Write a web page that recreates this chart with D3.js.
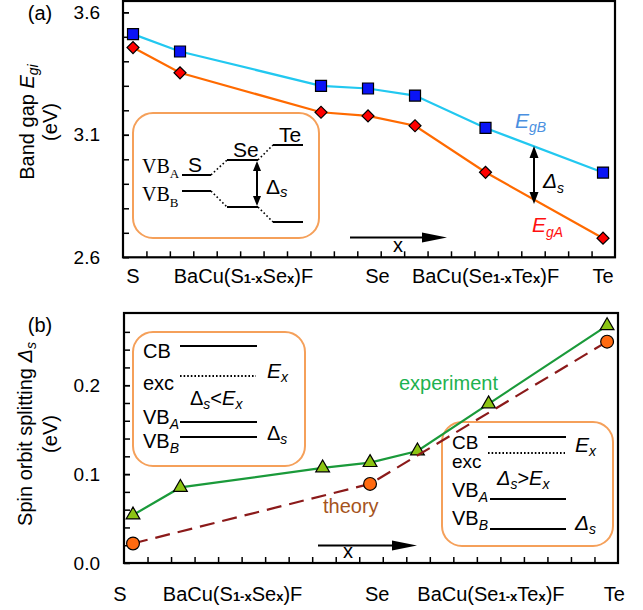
<!DOCTYPE html>
<html><head><meta charset="utf-8">
<script src="https://cdn.jsdelivr.net/npm/d3@7"></script>
<style>
body{margin:0;background:#fff}
svg{display:block}
text{font-family:"Liberation Sans",Arial,Helvetica,sans-serif;fill:#000}
</style>
</head><body>
<svg id="chart" width="643" height="610"></svg>
<script>
// ---------------- data ----------------
const compositions = [0, 0.2, 0.8, 1, 1.2, 1.5, 2];
const gapB = [3.511, 3.440, 3.300, 3.289, 3.260, 3.128, 2.946];
const gapA = [3.456, 3.353, 3.192, 3.177, 3.137, 2.947, 2.678];
const splitExperiment = [0.054, 0.085, 0.107, 0.113, 0.126, 0.179, 0.267];
const compTheory = [0, 1, 2];
const splitTheory = [0.022, 0.089, 0.249];
const categoryNames = ["S", "BaCu(S1-xSex)F", "Se", "BaCu(Se1-xTex)F", "Te"];
const categoryPosA = [0, 0.47, 1.04, 1.5, 2.0];
const categoryPosB = [-0.055, 0.42, 1.03, 1.51, 2.03];
const yTickLabelsA = [2.6, 3.1, 3.6];
const yTickLabelsB = [0.0, 0.1, 0.2];

// ---------------- helpers ----------------
const svg = d3.select("#chart");

function rich(g, x, y, parts, opt = {}) {
  const t = g.append("text").attr("x", x).attr("y", y)
    .attr("font-size", opt.size || 20)
    .attr("text-anchor", opt.anchor || "start");
  if (opt.fill) t.style("fill", opt.fill);
  if (opt.family) t.style("font-family", opt.family);
  if (opt.transform) t.attr("transform", opt.transform);
  parts.forEach(p => {
    const s = t.append("tspan").text(p.t);
    if (p.size) s.attr("font-size", p.size);
    if (p.italic) s.attr("font-style", "italic");
    if (p.bold) s.attr("font-weight", "bold");
    if (p.dy) s.attr("dy", p.dy);
    if (p.family) s.style("font-family", p.family);
  });
  return t;
}

function head(g, x, y, dir, len, hw) {
  let pts;
  if (dir === "up") pts = [[x, y], [x - hw, y + len], [x + hw, y + len]];
  else if (dir === "down") pts = [[x, y], [x - hw, y - len], [x + hw, y - len]];
  else pts = [[x, y], [x - len, y - hw], [x - len, y + hw]];
  g.append("path").attr("d", d3.line()(pts) + "Z").attr("fill", "#000");
}

function vArrow(g, x, y1, y2, len, hw) {
  g.append("line").attr("x1", x).attr("x2", x).attr("y1", y1 + len - 1).attr("y2", y2 - len + 1)
    .attr("stroke", "#000").attr("stroke-width", 2);
  head(g, x, y1, "up", len, hw);
  head(g, x, y2, "down", len, hw);
}

function catParts(name) {
  if (name === "BaCu(S1-xSex)F") return [{t: "BaCu(S"}, {t: "1-x", size: 13, bold: true}, {t: "Se"}, {t: "x", size: 13, bold: true}, {t: ")F"}];
  if (name === "BaCu(Se1-xTex)F") return [{t: "BaCu(Se"}, {t: "1-x", size: 13, bold: true}, {t: "Te"}, {t: "x", size: 13, bold: true}, {t: ")F"}];
  return [{t: name}];
}

// ---------------- panel (a) ----------------
const A = {l: 123, r: 615, t: 1, b: 257.3};
const xA = d3.scaleLinear().domain([-0.0426, 2.051]).range([A.l, A.r]);
const yA = d3.scaleLinear().domain([2.6, 3.6]).range([257.3, 12.3]);
const gA = svg.append("g");

gA.append("g").attr("transform", `translate(${A.l},0)`)
  .call(d3.axisLeft(yA).tickValues(d3.range(2.7, 3.64, 0.1)).tickSize(-6).tickFormat(""))
  .call(g => g.select(".domain").remove())
  .call(g => g.selectAll("line").attr("stroke-width", 1.5));
gA.append("g").attr("transform", `translate(${A.l},0)`)
  .call(d3.axisLeft(yA).tickValues(yTickLabelsA).tickSize(-6).tickPadding(23).tickFormat(d3.format(".1f")))
  .call(g => g.select(".domain").remove())
  .call(g => g.selectAll("line").attr("stroke-width", 1.5))
  .call(g => g.selectAll("text").attr("font-size", 19).style("font-family", '"Liberation Sans",Arial,sans-serif'));
const dA = xA.domain();
gA.append("g").attr("transform", `translate(0,${A.b})`)
  .call(d3.axisBottom(xA).tickValues(d3.range(1, 21).map(i => dA[0] + i * (dA[1] - dA[0]) / 21)).tickSize(-6).tickFormat(""))
  .call(g => g.select(".domain").remove())
  .call(g => g.selectAll("line").attr("stroke-width", 1.5));
gA.append("rect").attr("x", A.l).attr("y", A.t).attr("width", A.r - A.l).attr("height", A.b - A.t)
  .attr("fill", "none").attr("stroke", "#000").attr("stroke-width", 2.2);

// inset (a)
const ia = gA.append("g");
ia.append("rect").attr("x", 133).attr("y", 113).attr("width", 186).attr("height", 125).attr("rx", 20)
  .attr("fill", "none").attr("stroke", "#F5A05A").attr("stroke-width", 2);
const lvl = (x1, x2, y) => ia.append("line").attr("x1", x1).attr("x2", x2).attr("y1", y).attr("y2", y).attr("stroke", "#000").attr("stroke-width", 2);
const dot = (x1, y1, x2, y2) => ia.append("line").attr("x1", x1).attr("x2", x2).attr("y1", y1).attr("y2", y2).attr("stroke", "#000").attr("stroke-width", 1.6).attr("stroke-dasharray", "1.6,2.4");
lvl(182, 211, 175); lvl(182, 211, 191);
lvl(227, 258, 160); lvl(227, 258, 207);
lvl(273, 303, 145); lvl(273, 303, 222);
dot(211, 175, 227, 160); dot(211, 191, 227, 207);
dot(258, 160, 273, 145); dot(258, 207, 273, 222);
vArrow(ia, 257, 161, 206, 10, 4);
const serif = '"Liberation Serif","Times New Roman",serif';
rich(ia, 142, 173, [{t: "VB", family: serif}, {t: "A", size: 13, dy: 5, family: serif}], {size: 20});
rich(ia, 142, 201, [{t: "VB", family: serif}, {t: "B", size: 13, dy: 6, family: serif}], {size: 20});
rich(ia, 188, 172, [{t: "S"}], {size: 21});
rich(ia, 233, 157, [{t: "Se"}], {size: 21});
rich(ia, 279, 142, [{t: "Te"}], {size: 21});
rich(ia, 266, 194, [{t: "Δ"}, {t: "s", size: 15, dy: 3, italic: true}], {size: 21});

// lines and markers (a)
const lineA = d3.line().x((d, i) => xA(compositions[i])).y(d => yA(d));
gA.append("path").attr("d", lineA(gapB)).attr("fill", "none").attr("stroke", "#22C8F0").attr("stroke-width", 2.2);
gA.append("path").attr("d", lineA(gapA)).attr("fill", "none").attr("stroke", "#FF6A00").attr("stroke-width", 2.2);
gA.selectAll(".sq").data(gapB).join("path")
  .attr("transform", (d, i) => `translate(${xA(compositions[i])},${yA(d)})`)
  .attr("d", d3.symbol(d3.symbolSquare, 121)())
  .attr("fill", "#0A14F5").attr("stroke", "#000").attr("stroke-width", 1.2);
gA.selectAll(".dm").data(gapA).join("path")
  .attr("transform", (d, i) => `translate(${xA(compositions[i])},${yA(d)}) rotate(45)`)
  .attr("d", d3.symbol(d3.symbolSquare, 72)())
  .attr("fill", "#FF0000").attr("stroke", "#000").attr("stroke-width", 1.2);

// annotations (a)
rich(gA, 515, 128, [{t: "E", italic: true}, {t: "gB", size: 14, dy: 4, italic: true}], {size: 21, fill: "#4A8FE0"});
rich(gA, 532, 232, [{t: "E", italic: true}, {t: "gA", size: 14, dy: 5, italic: true}], {size: 21, fill: "#FF1010"});
vArrow(gA, 534, 146, 204, 12, 4.5);
rich(gA, 543, 188, [{t: "Δ", italic: true}, {t: "s", size: 14, dy: 5, italic: true}], {size: 21});
gA.append("line").attr("x1", 350).attr("x2", 425).attr("y1", 237.5).attr("y2", 237.5).attr("stroke", "#000").attr("stroke-width", 2);
head(gA, 447, 237.5, "right", 25, 5);
rich(gA, 398, 252, [{t: "x"}], {size: 20, anchor: "middle"});

categoryNames.forEach((n, i) => rich(gA, xA(categoryPosA[i]), 283, catParts(n), {size: 20, anchor: "middle"}));
rich(gA, 40, 20, [{t: "(a)"}], {size: 20, anchor: "middle"});
rich(gA, 0, 0, [{t: "Band gap "}, {t: "E", italic: true}, {t: "gi", size: 14, dy: 4, italic: true}],
  {size: 20, anchor: "middle", transform: "translate(34,122) rotate(-90)"});
rich(gA, 0, 0, [{t: "(eV)"}], {size: 20, anchor: "middle", transform: "translate(57,122) rotate(-90)"});

// ---------------- panel (b) ----------------
const B = {l: 124, r: 618, t: 313, b: 563};
const xB = d3.scaleLinear().domain([-0.038, 2.046]).range([B.l, B.r]);
const yB = d3.scaleLinear().domain([0, 0.2]).range([563, 385.2]);
const gB = svg.append("g");

gB.append("g").attr("transform", `translate(${B.l},0)`)
  .call(d3.axisLeft(yB).tickValues(d3.range(0.02, 0.27, 0.02)).tickSize(-6).tickFormat(""))
  .call(g => g.select(".domain").remove())
  .call(g => g.selectAll("line").attr("stroke-width", 1.5));
gB.append("g").attr("transform", `translate(${B.l},0)`)
  .call(d3.axisLeft(yB).tickValues(yTickLabelsB).tickSize(-6).tickPadding(24).tickFormat(d3.format(".1f")))
  .call(g => g.select(".domain").remove())
  .call(g => g.selectAll("line").attr("stroke-width", 1.5))
  .call(g => g.selectAll("text").attr("font-size", 19).style("font-family", '"Liberation Sans",Arial,sans-serif'));
const dB = xB.domain();
gB.append("g").attr("transform", `translate(0,${B.b})`)
  .call(d3.axisBottom(xB).tickValues(d3.range(1, 21).map(i => dB[0] + i * (dB[1] - dB[0]) / 21)).tickSize(-6).tickFormat(""))
  .call(g => g.select(".domain").remove())
  .call(g => g.selectAll("line").attr("stroke-width", 1.5));
gB.append("rect").attr("x", B.l).attr("y", B.t).attr("width", B.r - B.l).attr("height", B.b - B.t)
  .attr("fill", "none").attr("stroke", "#000").attr("stroke-width", 2.2);

// insets (b)
const ib = gB.append("g");
const lvlB = (x1, x2, y, dash) => {
  const l = ib.append("line").attr("x1", x1).attr("x2", x2).attr("y1", y).attr("y2", y).attr("stroke", "#000").attr("stroke-width", dash ? 1.8 : 2);
  if (dash) l.attr("stroke-dasharray", "1.6,2");
};
ib.append("rect").attr("x", 133).attr("y", 332).attr("width", 172).attr("height", 134).attr("rx", 20)
  .attr("fill", "none").attr("stroke", "#F5A05A").attr("stroke-width", 2);
rich(ib, 143, 358, [{t: "CB"}], {size: 20});
lvlB(180, 257, 346);
rich(ib, 143, 390, [{t: "exc"}], {size: 20});
lvlB(180, 256, 376, true);
rich(ib, 267, 378, [{t: "E", italic: true}, {t: "x", size: 14, dy: 4, italic: true}], {size: 21});
rich(ib, 190, 405, [{t: "Δ"}, {t: "s", size: 14, dy: 4, italic: true}, {t: "<", dy: -4}, {t: "E", italic: true}, {t: "x", size: 14, dy: 4, italic: true}], {size: 20});
rich(ib, 143, 424, [{t: "VB"}, {t: "A", size: 14, dy: 5, italic: true}], {size: 20});
lvlB(180, 257, 422);
rich(ib, 143, 448, [{t: "VB"}, {t: "B", size: 14, dy: 5, italic: true}], {size: 20});
lvlB(180, 257, 437);
rich(ib, 267, 440, [{t: "Δ"}, {t: "s", size: 14, dy: 4, italic: true}], {size: 20});

ib.append("rect").attr("x", 442).attr("y", 422).attr("width", 171).attr("height", 124).attr("rx", 20)
  .attr("fill", "none").attr("stroke", "#F5A05A").attr("stroke-width", 2);
rich(ib, 452, 449, [{t: "CB"}], {size: 19});
lvlB(488, 566, 437);
rich(ib, 452, 468, [{t: "exc"}], {size: 19});
lvlB(488, 565, 453, true);
rich(ib, 575, 452, [{t: "E", italic: true}, {t: "x", size: 14, dy: 4, italic: true}], {size: 21});
rich(ib, 497, 485, [{t: "Δ", italic: true}, {t: "s", size: 14, dy: 4, italic: true}, {t: ">", dy: -4}, {t: "E", italic: true}, {t: "x", size: 14, dy: 4, italic: true}], {size: 20});
rich(ib, 452, 497, [{t: "VB"}, {t: "A", size: 14, dy: 5, italic: true}], {size: 20});
lvlB(490, 566, 499);
rich(ib, 452, 525, [{t: "VB"}, {t: "B", size: 14, dy: 5, italic: true}], {size: 20});
lvlB(490, 566, 529);
rich(ib, 575, 530, [{t: "Δ", italic: true}, {t: "s", size: 14, dy: 4, italic: true}], {size: 21});

// lines and markers (b)
const lineExp = d3.line().x((d, i) => xB(compositions[i])).y(d => yB(d));
const lineTh = d3.line().x((d, i) => xB(compTheory[i])).y(d => yB(d));
gB.append("path").attr("d", lineExp(splitExperiment)).attr("fill", "none").attr("stroke", "#1A9A3A").attr("stroke-width", 2.2);
gB.selectAll(".tri").data(splitExperiment).join("path")
  .attr("transform", (d, i) => `translate(${xB(compositions[i])},${yB(d)})`)
  .attr("d", d3.symbol(d3.symbolTriangle, 82)())
  .attr("fill", "#8CC414").attr("stroke", "#000").attr("stroke-width", 1.2);
gB.append("path").attr("d", lineTh(splitTheory)).attr("fill", "none").attr("stroke", "#8B1A1A").attr("stroke-width", 2.2).attr("stroke-dasharray", "15,8");
gB.selectAll(".circ").data(splitTheory).join("circle")
  .attr("cx", (d, i) => xB(compTheory[i])).attr("cy", d => yB(d)).attr("r", 6.4)
  .attr("fill", "#FF6A10").attr("stroke", "#000").attr("stroke-width", 1.2);

// annotations (b)
rich(gB, 399, 390, [{t: "experiment"}], {size: 20, fill: "#1DB24F"});
rich(gB, 323, 513, [{t: "theory"}], {size: 20, fill: "#A5531C"});
gB.append("line").attr("x1", 318).attr("x2", 395).attr("y1", 545.5).attr("y2", 545.5).attr("stroke", "#000").attr("stroke-width", 2);
head(gB, 417, 545.5, "right", 25, 5);
rich(gB, 348, 558, [{t: "x"}], {size: 20, anchor: "middle"});

categoryNames.forEach((n, i) => rich(gB, xB(categoryPosB[i]), 601, catParts(n), {size: 20, anchor: "middle"}));
rich(gB, 40, 332, [{t: "(b)"}], {size: 20, anchor: "middle"});
rich(gB, 0, 0, [{t: "Spin orbit splitting "}, {t: "Δ", italic: true}, {t: "s", size: 14, dy: 4, italic: true}],
  {size: 20, anchor: "middle", transform: "translate(32,434) rotate(-90)"});
rich(gB, 0, 0, [{t: "(eV)"}], {size: 20, anchor: "middle", transform: "translate(57,434) rotate(-90)"});
</script>
</body></html>
